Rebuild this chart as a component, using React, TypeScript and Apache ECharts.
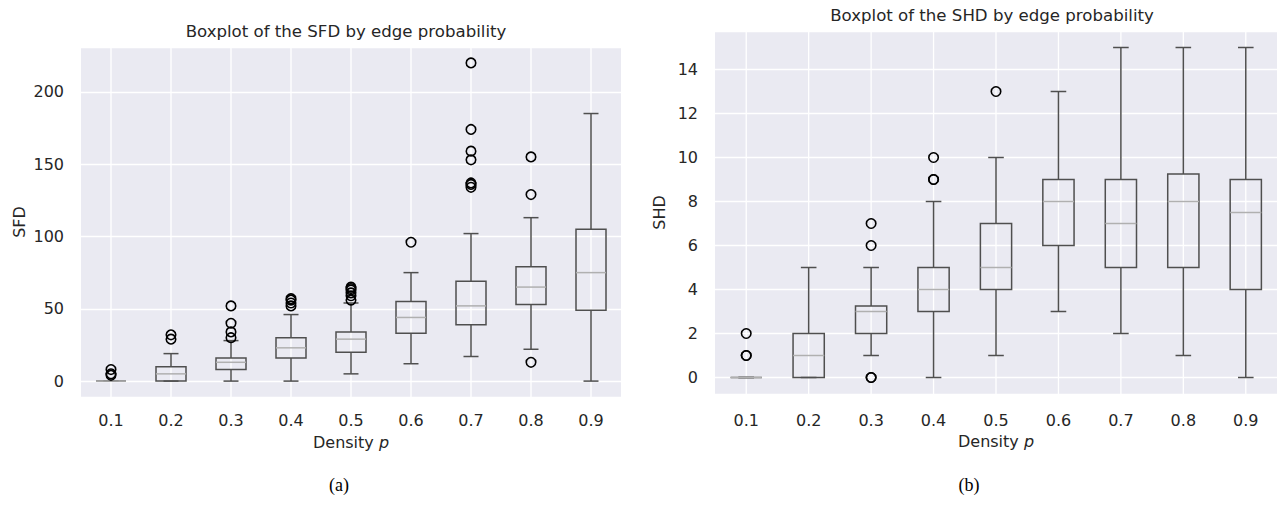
import React, { useEffect, useRef } from "react";
import * as echarts from "echarts";

const densities = ["0.1", "0.2", "0.3", "0.4", "0.5", "0.6", "0.7", "0.8", "0.9"];

// SFD boxplot statistics
const sfdLow = [0, 0, 0, 0, 5, 12, 17, 22, 0];
const sfdQ1 = [0, 0, 8, 16, 20, 33, 39, 53, 49];
const sfdMedian = [0, 5, 13, 23, 29, 44, 52, 65, 75];
const sfdQ3 = [0, 10, 16, 30, 34, 55, 69, 79, 105];
const sfdHigh = [0, 19, 28, 46, 54, 75, 102, 113, 185];
const sfdOutliers = [
  [0, 4], [0, 5], [0, 8],
  [1, 29], [1, 32],
  [2, 30], [2, 34], [2, 40], [2, 52],
  [3, 52], [3, 54], [3, 56], [3, 57],
  [4, 56], [4, 59], [4, 61], [4, 63], [4, 64], [4, 65],
  [5, 96],
  [6, 134], [6, 136], [6, 137], [6, 153], [6, 159], [6, 174], [6, 220],
  [7, 13], [7, 129], [7, 155],
];

// SHD boxplot statistics
const shdLow = [0, 0, 1, 0, 1, 3, 2, 1, 0];
const shdQ1 = [0, 0, 2, 3, 4, 6, 5, 5, 4];
const shdMedian = [0, 1, 3, 4, 5, 8, 7, 8, 7.5];
const shdQ3 = [0, 2, 3.25, 5, 7, 9, 9, 9.25, 9];
const shdHigh = [0, 5, 5, 8, 10, 13, 15, 15, 15];
const shdOutliers = [
  [0, 1], [0, 1], [0, 2],
  [2, 0], [2, 0], [2, 6], [2, 7],
  [3, 9], [3, 9], [3, 10],
  [4, 13],
];

const FONT = "'DejaVu Sans', 'Liberation Sans', Arial, sans-serif";
const FS = 16;
const TEXT = "#262626";
const BOX = "#4f4f4f";
const MED = "#b0b0b0";
const BG = "#EAEAF2";

function boxSeries(idx: number, low: number[], q1: number[], med: number[], q3: number[], high: number[]) {
  return {
    type: "custom",
    xAxisIndex: idx,
    yAxisIndex: idx,
    silent: true,
    z: 2,
    encode: { x: 0, y: [1, 2, 3, 4, 5] },
    data: densities.map((_, i) => [i, low[i], q1[i], med[i], q3[i], high[i]]),
    renderItem: (params: any, api: any) => {
      const i = api.value(0);
      const cs = params.coordSys;
      const band = api.size([1, 0])[0];
      const bw = band * 0.5;
      const cap = bw * 0.5;
      const pLow = api.coord([i, api.value(1)]);
      const pQ1 = api.coord([i, api.value(2)]);
      const pMed = api.coord([i, api.value(3)]);
      const pQ3 = api.coord([i, api.value(4)]);
      const pHigh = api.coord([i, api.value(5)]);
      const cx = pMed[0];
      const ls = { stroke: BOX, lineWidth: 1.5, fill: "none" };
      return {
        type: "group",
        children: [
          {
            type: "line",
            shape: { x1: cx, y1: cs.y, x2: cx, y2: cs.y + cs.height },
            style: { stroke: "#ffffff", lineWidth: 1.3 },
          },
          { type: "line", shape: { x1: cx, y1: pQ1[1], x2: cx, y2: pLow[1] }, style: ls },
          { type: "line", shape: { x1: cx, y1: pQ3[1], x2: cx, y2: pHigh[1] }, style: ls },
          { type: "line", shape: { x1: cx - cap / 2, y1: pLow[1], x2: cx + cap / 2, y2: pLow[1] }, style: ls },
          { type: "line", shape: { x1: cx - cap / 2, y1: pHigh[1], x2: cx + cap / 2, y2: pHigh[1] }, style: ls },
          {
            type: "rect",
            shape: { x: cx - bw / 2, y: pQ3[1], width: bw, height: pQ1[1] - pQ3[1] },
            style: ls,
          },
          {
            type: "line",
            shape: { x1: cx - bw / 2, y1: pMed[1], x2: cx + bw / 2, y2: pMed[1] },
            style: { stroke: MED, lineWidth: 1.5 },
          },
        ],
      };
    },
  };
}

function outlierSeries(idx: number, pts: number[][]) {
  return {
    type: "scatter",
    xAxisIndex: idx,
    yAxisIndex: idx,
    silent: true,
    z: 3,
    symbol: "circle",
    symbolSize: 9.5,
    itemStyle: { color: "rgba(0,0,0,0)", borderColor: "#000", borderWidth: 1.6, opacity: 1 },
    data: pts.map((p) => [densities[p[0]], p[1]]),
  };
}

function xAxis(idx: number, margin: number, gap: number) {
  return {
    type: "category",
    gridIndex: idx,
    data: densities,
    boundaryGap: true,
    axisLine: { show: false },
    axisTick: { show: false },
    splitLine: { show: false },
    axisLabel: { color: TEXT, fontSize: FS, fontFamily: FONT, margin },
    name: "{a|Density }{b|p}",
    nameLocation: "middle",
    nameGap: gap,
    nameTextStyle: {
      rich: {
        a: { color: TEXT, fontSize: FS, fontFamily: FONT },
        b: { color: TEXT, fontSize: FS, fontFamily: FONT, fontStyle: "italic" },
      },
    },
  };
}

function yAxis(idx: number, name: string, min: number, max: number, step: number, gap: number) {
  return {
    type: "value",
    gridIndex: idx,
    min,
    max,
    minInterval: step,
    maxInterval: step,
    axisLine: { show: false },
    axisTick: { show: false },
    splitLine: { show: true, lineStyle: { color: "#ffffff", width: 1.3 } },
    axisLabel: {
      color: TEXT,
      fontSize: FS,
      fontFamily: FONT,
      margin: 17,
      showMinLabel: false,
      showMaxLabel: false,
    },
    name,
    nameLocation: "middle",
    nameGap: gap,
    nameTextStyle: { color: TEXT, fontSize: FS, fontFamily: FONT },
  };
}

export default function App() {
  const ref = useRef<HTMLDivElement>(null);
  useEffect(() => {
    document.body.style.margin = "0";
    const chart = echarts.init(ref.current!, null, { renderer: "svg" });
    chart.setOption({
      animation: false,
      backgroundColor: "#ffffff",
      grid: [
        { left: 81, top: 47, width: 540, height: 350, show: true, backgroundColor: BG, borderWidth: 0 },
        { left: 715, top: 31, width: 562, height: 363, show: true, backgroundColor: BG, borderWidth: 0 },
      ],
      xAxis: [xAxis(0, 15, 37), xAxis(1, 18, 39)],
      yAxis: [yAxis(0, "SFD", -11, 231, 50, 54), yAxis(1, "SHD", -0.75, 15.75, 2, 48)],
      series: [
        boxSeries(0, sfdLow, sfdQ1, sfdMedian, sfdQ3, sfdHigh),
        outlierSeries(0, sfdOutliers),
        boxSeries(1, shdLow, shdQ1, shdMedian, shdQ3, shdHigh),
        outlierSeries(1, shdOutliers),
      ],
      graphic: [
        {
          type: "text",
          x: 346,
          y: 31,
          style: { text: "Boxplot of the SFD by edge probability", fill: TEXT, font: `16.6px ${FONT}`, align: "center", verticalAlign: "middle" },
        },
        {
          type: "text",
          x: 992,
          y: 15,
          style: { text: "Boxplot of the SHD by edge probability", fill: TEXT, font: `16.6px ${FONT}`, align: "center", verticalAlign: "middle" },
        },
        {
          type: "text",
          x: 339,
          y: 485,
          style: { text: "(a)", fill: "#000", font: "18px 'Liberation Serif', 'Times New Roman', serif", align: "center", verticalAlign: "middle" },
        },
        {
          type: "text",
          x: 969,
          y: 485,
          style: { text: "(b)", fill: "#000", font: "18px 'Liberation Serif', 'Times New Roman', serif", align: "center", verticalAlign: "middle" },
        },
      ],
    });
    return () => chart.dispose();
  }, []);
  return <div ref={ref} style={{ width: 1277, height: 510 }} />;
}
